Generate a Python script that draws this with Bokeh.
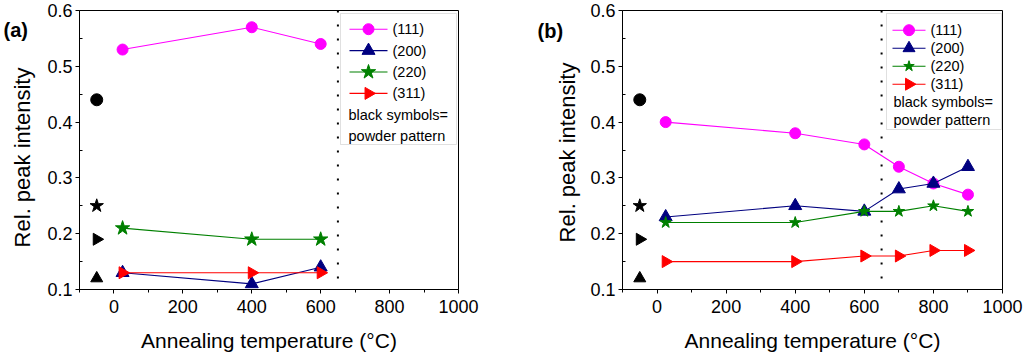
import numpy as np
from bokeh.plotting import figure
from bokeh.models import (ColumnDataSource, Span, Label, BoxAnnotation,
                          FixedTicker, Range1d)
from bokeh.layouts import row
from bokeh.embed import file_html
from bokeh.resources import INLINE

FONT = "Liberation Sans"

# ---- data ----
temps_a = [25, 400, 600]
a_111 = [0.53, 0.57, 0.54]
a_200 = [0.13, 0.11, 0.14]
a_220 = [0.21, 0.19, 0.19]
a_311 = [0.13, 0.13, 0.13]

temps_b = [25, 400, 600, 700, 800, 900]
b_111 = [0.40, 0.38, 0.36, 0.32, 0.29, 0.27]
b_200 = [0.23, 0.25, 0.24, 0.28, 0.29, 0.32]
b_220 = [0.22, 0.22, 0.24, 0.24, 0.25, 0.24]
b_311 = [0.15, 0.15, 0.16, 0.16, 0.17, 0.17]

powder_x = -50
powder_vals = [0.44, 0.12, 0.25, 0.19]   # (111), (200), (220), (311)

series_labels = ["(111)", "(200)", "(220)", "(311)"]
series_colors = ["#FF00FF", "#000080", "#008000", "#FF0000"]
series_markers = ["circle", "triangle", "star", "triangle"]
series_angles = [0.0, 0.0, 0.0, -np.pi / 2]
note_lines = ["black symbols=", "powder pattern"]
panel_labels = ["(a)", "(b)"]
x_label = "Annealing temperature (°C)"
y_label = "Rel. peak intensity"
x_limits = (-100, 1000)
y_limits = (0.1, 0.6)
x_ticks = [0, 200, 400, 600, 800, 1000]
x_minor = [-100, 100, 300, 500, 700, 900]
y_ticks = [0.1, 0.2, 0.3, 0.4, 0.5, 0.6]
y_minor = [0.15, 0.25, 0.35, 0.45, 0.55]
phase_boundary = 650

TOP = 10
FH = 279          # frame height
BOTTOM = 66


def make_side(width, plabel, px, py, lx, ly):
    s = figure(frame_width=width, frame_height=FH, output_backend="svg",
               toolbar_location=None, x_axis_location=None, y_axis_location=None,
               min_border_left=0, min_border_right=0,
               min_border_top=TOP, min_border_bottom=BOTTOM,
               x_range=Range1d(0, 1), y_range=Range1d(0, 1))
    s.outline_line_color = None
    s.xgrid.visible = False
    s.ygrid.visible = False
    s.add_layout(Label(x=px, y=FH - py, x_units="screen", y_units="screen",
                       text=plabel, text_font=FONT, text_font_size="20px",
                       text_font_style="bold", text_baseline="middle",
                       text_color="black"))
    s.add_layout(Label(x=lx, y=FH - ly, x_units="screen", y_units="screen",
                       text=y_label, text_font=FONT, text_font_size="22px",
                       text_align="center", text_baseline="middle",
                       angle=np.pi / 2, text_color="black"))
    return s


def make_panel(temps, series, cfg):
    FW = cfg["fw"]
    p = figure(frame_width=FW, frame_height=FH, output_backend="svg",
               toolbar_location=None,
               x_range=Range1d(*x_limits), y_range=Range1d(*y_limits),
               min_border_left=cfg["bl"], min_border_right=cfg["br"],
               min_border_top=TOP, min_border_bottom=BOTTOM)
    p.extra_x_ranges = {"px": Range1d(0, FW)}
    p.extra_y_ranges = {"px": Range1d(0, FH)}
    p.xgrid.visible = False
    p.ygrid.visible = False
    p.outline_line_color = "black"
    p.outline_line_alpha = 1.0
    p.outline_line_width = 1
    p.background_fill_color = "white"
    p.border_fill_color = "white"

    p.xaxis.ticker = FixedTicker(ticks=x_ticks, minor_ticks=x_minor)
    p.yaxis.ticker = FixedTicker(ticks=y_ticks, minor_ticks=y_minor)
    for ax in (p.xaxis[0], p.yaxis[0]):
        ax.axis_line_color = "black"
        ax.major_tick_line_color = "black"
        ax.minor_tick_line_color = "black"
        ax.major_tick_out = 4
        ax.major_tick_in = 0
        ax.major_label_text_font = FONT
        ax.major_label_text_font_size = "18px"
        ax.major_label_text_color = "black"
        ax.axis_label_text_font = FONT
        ax.axis_label_text_font_size = "21px"
        ax.axis_label_text_font_style = "normal"
        ax.axis_label_text_color = "black"
    p.xaxis.minor_tick_out = 3
    p.xaxis.minor_tick_in = 0
    p.yaxis.minor_tick_out = 0
    p.yaxis.minor_tick_in = 3
    p.xaxis.axis_label = x_label
    p.xaxis.major_label_standoff = 6
    p.yaxis.major_label_standoff = 3
    p.xaxis.axis_label_standoff = 13

    p.add_layout(Span(location=phase_boundary, dimension="height", line_color="black",
                      line_width=2, line_dash="2 12"))

    for i, ys in enumerate(series):
        src = ColumnDataSource(dict(x=temps, y=ys))
        p.line("x", "y", source=src, line_color=series_colors[i], line_width=1.1)
        p.scatter("x", "y", source=src, marker=series_markers[i], size=cfg["sizes"][i],
                  angle=series_angles[i], fill_color=series_colors[i],
                  line_color=series_colors[i])

    psrc = ColumnDataSource(dict(x=[powder_x] * 4, y=powder_vals,
                                 m=series_markers, a=series_angles,
                                 s=[12, 12, 14, 12]))
    p.scatter("x", "y", source=psrc, marker="m", angle="a", size="s",
              fill_color="black", line_color="black")

    # ---- legend (annotations + glyphs on a pixel range) ----
    lg = cfg["lg"]
    left = FW - lg["from_right"]
    p.add_layout(BoxAnnotation(left=left, right=left + lg["box_w"],
                               top=FH - lg["box_t"], bottom=FH - lg["box_b"],
                               left_units="screen", right_units="screen",
                               top_units="screen", bottom_units="screen",
                               fill_color="white", fill_alpha=1.0,
                               line_color="#999999", line_width=1, level="underlay"))
    n = len(series_labels)
    rows_y = [FH - (lg["first"] + k * lg["step"]) for k in range(n + len(note_lines))]
    gx0 = left + lg["gx"]
    gx1 = gx0 + lg["gw"]
    leg_src = ColumnDataSource(dict(
        x0=[gx0] * n, x1=[gx1] * n, xm=[(gx0 + gx1) / 2] * n, y=rows_y[:n],
        c=series_colors, m=series_markers, a=series_angles, s=cfg["lsizes"]))
    p.segment("x0", "y", "x1", "y", source=leg_src, line_color="c", line_width=1.1,
              x_range_name="px", y_range_name="px")
    p.scatter("xm", "y", source=leg_src, marker="m", angle="a", size="s",
              fill_color="c", line_color="c", x_range_name="px", y_range_name="px")
    for k, t in enumerate(series_labels):
        p.add_layout(Label(x=gx1 + lg["stand"], y=rows_y[k], x_units="screen",
                           y_units="screen", text=t, text_font=FONT,
                           text_font_size="14.5px", text_baseline="middle",
                           text_color="black"))
    for j, t in enumerate(note_lines):
        p.add_layout(Label(x=left + lg["tx"], y=rows_y[n + j], x_units="screen",
                           y_units="screen", text=t, text_font=FONT,
                           text_font_size="14.5px", text_baseline="middle",
                           text_color="black"))
    return p


cfg_a = dict(fw=379, bl=35, br=54, sizes=[11, 13, 15, 12], lsizes=[11, 13, 15, 12],
             lg=dict(from_right=118, box_w=116, box_t=3, box_b=134, gx=9, gw=38,
                     stand=5, tx=8, first=18.7, step=21.4))
cfg_b = dict(fw=380, bl=35, br=22, sizes=[11, 13, 12, 12], lsizes=[11, 12, 11, 12],
             lg=dict(from_right=116, box_w=115, box_t=3, box_b=119, gx=6, gw=33,
                     stand=5, tx=7, first=19.7, step=18.0))

side_a = make_side(44, panel_labels[0], 3, 19, 22, 147)
pa = make_panel(temps_a, [a_111, a_200, a_220, a_311], cfg_a)
side_b = make_side(75, panel_labels[1], 25, 20, 55, 142)
pb = make_panel(temps_b, [b_111, b_200, b_220, b_311], cfg_b)

layout = row(side_a, pa, side_b, pb, spacing=0)
open("out.html", "w").write(file_html(layout, INLINE))
